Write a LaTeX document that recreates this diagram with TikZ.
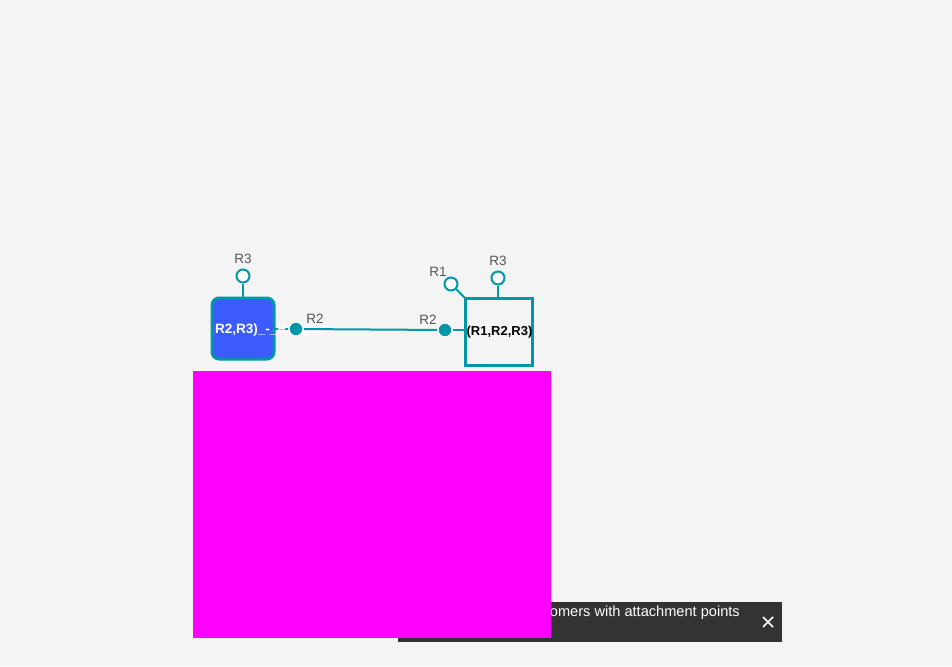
\documentclass[tikz,border=0pt]{standalone}
\usepackage{fontspec}
\setmainfont{Liberation Sans}
\usetikzlibrary{calc}
\begin{document}
\begin{tikzpicture}[x=1pt,y=-1pt,
  teal/.style={draw=tealc,line width=2pt},
  openap/.style={circle,draw=tealc,line width=2pt,fill=white,minimum size=13pt,inner sep=0pt},
  filledap/.style={circle,draw=white,line width=1.2pt,fill=tealc,minimum size=14pt,inner sep=0pt},
  aplabel/.style={text=labelc,font=\fontsize{13.5pt}{14pt}\selectfont,inner sep=0pt},
]
\definecolor{bgc}{HTML}{F4F4F4}
\definecolor{tealc}{HTML}{0097A7}
\definecolor{bluec}{HTML}{3B5BFD}
\definecolor{labelc}{HTML}{555555}
\definecolor{toastc}{HTML}{333333}
\definecolor{magc}{HTML}{FF00FF}
\useasboundingbox (0,0) rectangle (952,666);
\fill[bgc] (0,0) rectangle (952,666);

% left monomer
\node[draw=tealc,line width=3pt,fill=bluec,rounded corners=7pt,minimum width=62pt,minimum height=61pt,inner sep=0pt] (m1) at (243,328.5) {};
\coordinate (m1e) at (275,329);
\draw[teal] (m1e) -- (296,329);
\node[text=white,font=\bfseries\fontsize{13.5pt}{14pt}\selectfont,anchor=west,inner sep=0pt] (m1t) at (215,330) {R2,R3)\_-\_R1\_gap};
\node[openap] (m1r3) at (243,276) {};
\node[aplabel] (m1r3l) at (243,259) {R3};
\draw[teal] (m1r3) -- (m1.north);
\node[filledap] (m1r2) at (296,329) {};
\node[aplabel] (m1r2l) at (315,319) {R2};

% right monomer
\node[draw=tealc,line width=2.5pt,fill=bgc,minimum width=67pt,minimum height=67pt,inner sep=0pt] (m2) at (499,332) {};
\node[font=\bfseries\fontsize{13pt}{14pt}\selectfont,inner sep=0pt] (m2t) at (499.5,332) {(R1,R2,R3)};
\node[filledap] (m2r2) at (445,330) {};
\node[aplabel] (m2r2l) at (428,320) {R2};
\node[openap] (m2r1) at (451,284) {};
\node[aplabel] (m2r1l) at (438,272) {R1};
\node[openap] (m2r3) at (498,278) {};
\node[aplabel] (m2r3l) at (498,261) {R3};
\coordinate (m2w) at (465,330);
\coordinate (m2nw) at (466,299);
\draw[teal] (m2r1) -- (m2nw);
\draw[teal] (m2r3) -- (m2r3 |- m2.north);

% connectors
\draw[teal] (m2r2) -- (m2w);
\draw[tealc,line width=2pt] (m1r2) -- (m2r2);
\node[filledap] at (296,329) {};
\node[filledap] at (445,330) {};

% toast
\node[fill=toastc,minimum width=384pt,minimum height=40pt,inner sep=0pt] (toast) at (590,622) {};
\node[text=white,font=\fontsize{14.6pt}{15pt}\selectfont,anchor=east,inner sep=0pt] (toastt) at (740,613) {Monomers with attachment points};
\coordinate (cx) at (768,622);
\draw[white,line width=1.5pt] ($(cx)+(-5,-5)$) -- ($(cx)+(5,5)$) ($(cx)+(-5,5)$) -- ($(cx)+(5,-5)$);

% magenta block
\fill[magc] (193,371) rectangle (551,638);
\end{tikzpicture}
\end{document}
